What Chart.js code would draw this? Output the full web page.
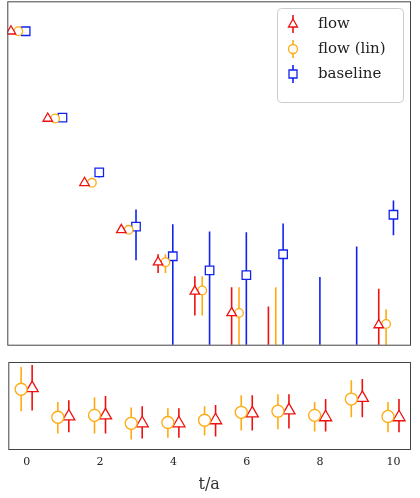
<!DOCTYPE html>
<html><head><meta charset="utf-8">
<script src="https://cdn.jsdelivr.net/npm/chart.js@4/dist/chart.umd.min.js"></script>
<style>body{margin:0;background:#fff;overflow:hidden}#a{position:absolute;left:0;top:-6px;width:420px;height:358px}#b{position:absolute;left:0;top:352px;width:420px;height:146px}</style>
</head><body>
<div id="a"><canvas id="ca"></canvas></div><div id="b"><canvas id="cb"></canvas></div>
<script>
const times=[0,1,2,3,4,5,6,7,8,9,10];
const xTickLabels=[0,2,4,6,8,10];
// top panel (log)
const flowVal=[460,44,7.8,2.2,0.92,0.42,0.235,0.05,null,null,0.17];
const flowLo=[455,43,7.6,2.1,0.69,0.22,0.09,0.05,null,null,0.09];
const flowHi=[465,45,8.0,2.3,1.14,0.63,0.47,0.28,null,null,0.45];
const linVal=[460,44,7.8,2.2,0.92,0.43,0.235,0.05,null,null,0.175];
const linLo=[455,43,7.6,2.1,0.69,0.22,0.09,0.05,null,null,0.09];
const linHi=[465,45,8.0,2.3,1.14,0.63,0.47,0.47,null,null,0.26];
const baseVal=[460,45,10.3,2.4,1.08,0.74,0.65,1.14,0.02,0.02,3.3];
const baseLo=[455,44,9.0,0.97,0.05,0.05,0.05,0.05,0.05,0.05,1.9];
const baseHi=[465,46,11.5,3.8,2.55,2.1,2.06,2.6,0.62,1.4,4.85];
// bottom panel (ratio)
const rFlowVal=[1.056,0.981,0.984,0.963,0.963,0.971,0.989,0.997,0.979,1.030,0.979];
const rFlowLo=[0.997,0.939,0.936,0.923,0.925,0.928,0.944,0.949,0.941,0.979,0.939];
const rFlowHi=[1.117,1.024,1.035,1.008,1.003,1.011,1.037,1.040,1.027,1.080,1.027];
const rLinVal=[1.053,0.979,0.984,0.963,0.965,0.971,0.992,0.995,0.984,1.027,0.981];
const rLinLo=[0.995,0.936,0.936,0.920,0.925,0.931,0.944,0.947,0.941,0.979,0.939];
const rLinHi=[1.112,1.019,1.032,1.005,1.003,1.008,1.037,1.040,1.019,1.077,1.019];

const RED='#ee1111',ORA='#ffaa11',BLU='#1122ee';
function ds(vals,lo,hi,off,color,style,r,label){
  return {label,data:times.map((t,i)=>vals[i]==null?null:{x:t+off,y:vals[i],lo:lo[i],hi:hi[i]}).filter(p=>p),
    borderColor:color,backgroundColor:'white',pointStyle:style,pointRadius:r,pointBorderWidth:1.3,showLine:false,clip:0};
}
const errPlugin={id:'err',beforeDatasetsDraw(c){const g=c.ctx,a=c.chartArea,y=c.scales.y;
  g.save();g.beginPath();g.rect(a.left,a.top,a.right-a.left,a.bottom-a.top);g.clip();
  c.data.datasets.forEach((d,k)=>{const m=c.getDatasetMeta(k);g.strokeStyle=d.borderColor;g.lineWidth=1.6;
    d.data.forEach((p,i)=>{if(p.lo==null)return;const x=m.data[i].x;g.beginPath();g.moveTo(x,y.getPixelForValue(p.hi));g.lineTo(x,y.getPixelForValue(p.lo));g.stroke();});});
  g.restore();},
 afterDraw(c){const g=c.ctx,a=c.chartArea;g.save();g.strokeStyle='#444';g.lineWidth=1;g.strokeRect(a.left+0.5,a.top+0.5,a.right-a.left,a.bottom-a.top);g.restore();}};
const legendPlugin={id:'leg',afterDraw(c){const g=c.ctx;g.save();
  const bx=277,by=14,bw=126,bh=94;g.fillStyle='rgba(255,255,255,0.9)';g.strokeStyle='#ccc';g.lineWidth=1;
  g.beginPath();g.roundRect(bx+0.5,by+0.5,bw,bh,4);g.fill();g.stroke();
  const items=[['flow',RED,'triangle'],['flow (lin)',ORA,'circle'],['baseline',BLU,'rect']];
  g.font='15px "DejaVu Serif", serif';g.textBaseline='middle';
  items.forEach((it,i)=>{const y=30+i*25,x=293;g.strokeStyle=it[1];g.lineWidth=1.6;
    g.beginPath();g.moveTo(x,y-9);g.lineTo(x,y+9);g.stroke();g.fillStyle='white';g.lineWidth=1.3;g.beginPath();
    if(it[2]==='triangle'){g.moveTo(x,y-5);g.lineTo(x+4.5,y+3);g.lineTo(x-4.5,y+3);g.closePath();}
    else if(it[2]==='circle'){g.arc(x,y,4.5,0,7);}else{g.rect(x-4,y-4,8,8);}
    g.fill();g.stroke();g.fillStyle='#222';g.fillText(it[0],318,y);});
  g.restore();}};
Chart.defaults.font.family='"DejaVu Serif", serif';
Chart.defaults.animation=false;
const xCommon={type:'linear',min:-0.5,max:10.45,grid:{display:false,drawTicks:true,tickLength:4,color:'#444'},border:{display:false},
  afterBuildTicks(s){s.ticks=xTickLabels.map(v=>({value:v}));}};
new Chart(document.getElementById('ca'),{type:'scatter',
 data:{datasets:[ds(flowVal,flowLo,flowHi,-0.4,RED,'triangle',5.5,'flow'),ds(linVal,linLo,linHi,-0.2,ORA,'circle',4.3,'flow (lin)'),ds(baseVal,baseLo,baseHi,0,BLU,'rect',6,'baseline')]},
 options:{responsive:true,maintainAspectRatio:false,layout:{padding:{top:0,right:10,left:0,bottom:0}},
  plugins:{legend:{display:false},tooltip:{enabled:false}},
  scales:{x:{...xCommon,ticks:{display:false},afterFit(s){s.height=7;}},
   y:{type:'logarithmic',min:0.1,max:1030,grid:{display:false,tickLength:3,color:'#444'},border:{display:false},ticks:{display:false},afterFit(s){s.width=3;}}}},
 plugins:[errPlugin,legendPlugin]});
new Chart(document.getElementById('cb'),{type:'scatter',
 data:{datasets:[ds(rLinVal,rLinLo,rLinHi,-0.15,ORA,'circle',6,'lin'),ds(rFlowVal,rFlowLo,rFlowHi,0.15,RED,'triangle',7,'flow')]},
 options:{responsive:true,maintainAspectRatio:false,layout:{padding:{top:10,right:10,left:0,bottom:0}},
  plugins:{legend:{display:false},tooltip:{enabled:false}},
  scales:{x:{...xCommon,ticks:{color:'#222',font:{size:11},padding:3,callback:v=>v},
    title:{display:true,text:'t/a',color:'#333',font:{size:16},padding:{top:0}},afterFit(s){s.height=49;}},
   y:{min:0.895,max:1.125,grid:{display:false,tickLength:3,color:'#444'},border:{display:false},
    afterBuildTicks(s){s.ticks=[{value:0.9},{value:1.0},{value:1.1}];},ticks:{display:false},afterFit(s){s.width=3;}}}},
 plugins:[errPlugin]});
</script></body></html>
